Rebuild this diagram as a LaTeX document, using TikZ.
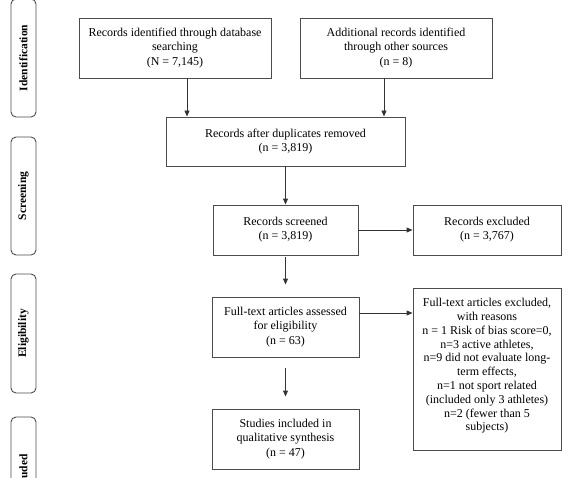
\documentclass[tikz,border=0pt]{standalone}
\usepackage{fontspec}
\setmainfont{Liberation Serif}
\usetikzlibrary{arrows.meta}
\begin{document}
\begin{tikzpicture}[x=1pt,y=-1pt,
  box/.style={draw=black!70, line width=0.9pt, align=center, inner sep=0pt,
    font=\fontsize{12}{14.2}\selectfont},
  phase/.style={draw=black!70, line width=0.9pt, rounded corners=5pt, rotate=90,
    inner sep=0pt, minimum height=25pt, font=\bfseries\fontsize{11.5}{13}\selectfont},
  arr/.style={draw=black!80, line width=0.9pt, -{Triangle[length=6pt,width=5pt]}}]
\useasboundingbox (0,0) rectangle (569,478);
% phase labels
\node[phase, minimum width=118pt] (p1) at (23.5,58) {Identification};
\node[phase, minimum width=118pt] (p2) at (23.5,196) {Screening};
\node[phase, minimum width=119pt] (p3) at (23.5,333.5) {Eligibility};
\node[phase, minimum width=118pt] (p4) at (23.5,476) {Included};
% boxes
\node[box, minimum width=192pt, minimum height=60pt] (b1) at (175,48)
  {Records identified through database\\searching\\(N = 7,145)};
\node[box, minimum width=192pt, minimum height=60pt] (b2) at (396,48)
  {Additional records identified\\through other sources\\(n = 8)};
\node[box, minimum width=239pt, minimum height=49pt] (b3) at (285.5,141.5)
  {Records after duplicates removed\\(n = 3,819)};
\node[box, minimum width=145pt, minimum height=50pt] (b4) at (285.5,230)
  {Records screened\\(n = 3,819)};
\node[box, minimum width=148pt, minimum height=50pt] (b5) at (487,230)
  {Records excluded\\(n = 3,767)};
\node[box, minimum width=147pt, minimum height=60pt] (b6) at (285.5,327)
  {Full-text articles assessed\\for eligibility\\(n = 63)};
\node[box, minimum width=148pt, minimum height=162pt] (b7) at (487,369) {};
\node[align=center, inner sep=0pt, font=\fontsize{12}{13.8}\selectfont] (t7) at (487,366)
  {Full-text articles excluded,\\with reasons\\n = 1 Risk of bias score=0,\\n=3 active athletes,\\n=9 did not evaluate long-\\term effects,\\n=1 not sport related\\(included only 3 athletes)\\n=2 (fewer than 5\\subjects)};
\node[box, minimum width=147pt, minimum height=60pt] (b8) at (285.5,439)
  {Studies included in\\qualitative synthesis\\(n = 47)};
% arrows
\draw[arr] ([xshift=12pt]b1.south) -- ([xshift=12pt]b1.south |- b3.north);
\draw[arr] ([xshift=-12pt]b2.south) -- ([xshift=-12pt]b2.south |- b3.north);
\draw[arr] (b3.south) -- (b4.north);
\draw[arr] (b4.east) -- (b5.west);
\draw[arr] ([yshift=-2pt]b4.south) -- ([yshift=12pt]b6.north);
\draw[arr] ([yshift=14pt]b6.east) -- ([yshift=14pt]b6.east -| b7.west);
\draw[arr] ([yshift=-11pt]b6.south) -- ([yshift=12pt]b8.north);
\end{tikzpicture}
\end{document}
